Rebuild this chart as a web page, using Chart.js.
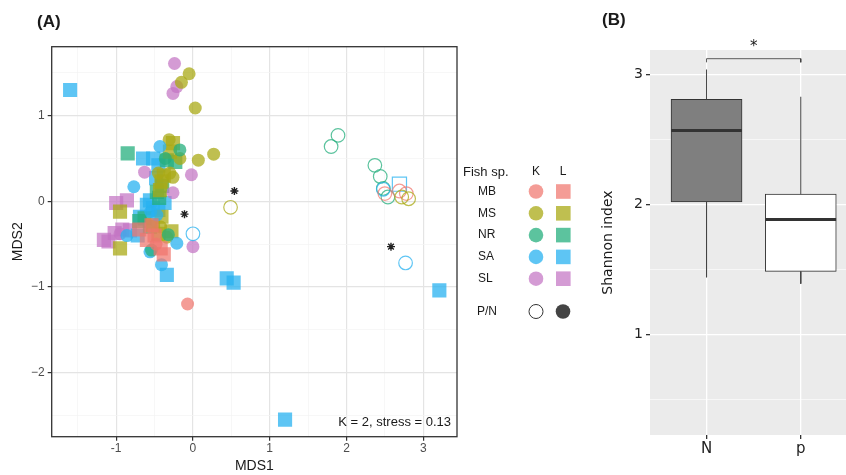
<!DOCTYPE html>
<html>
<head>
<meta charset="utf-8">
<script src="https://cdn.jsdelivr.net/npm/chart.js@4.4.1/dist/chart.umd.min.js"></script>
<style>
body{margin:0;background:#fff;width:846px;height:475px;overflow:hidden;position:relative}
#chartA{position:absolute;left:0;top:0}
#chartB{position:absolute;left:590px;top:0}
</style>
</head>
<body>
<canvas id="chartA" width="600" height="475"></canvas>
<canvas id="chartB" width="256" height="475"></canvas>
<script>
// ---- panel A: NMDS coordinates [MDS1, MDS2] ----
const species = ['MB', 'MS', 'NR', 'SA', 'SL'];
const speciesColors = ['rgba(240,118,110,0.72)', 'rgba(170,170,22,0.75)', 'rgba(38,175,125,0.75)', 'rgba(40,178,240,0.75)', 'rgba(196,116,196,0.72)'];

// K = circle, L = square ; open = P, filled = N
const mbCircle = [[-0.07,-1.20],[-0.48,-0.50]];
const mbSquare = [[-0.70,-0.33],[-0.60,-0.45],[-0.50,-0.40],[-0.42,-0.55],[-0.38,-0.62],[-0.54,-0.28]];
const mbOpen = [[2.50,0.09],[2.69,0.12],[2.78,0.09]];

const msCircle = [[-0.05,1.49],[-0.15,1.39],[0.03,1.09],[-0.31,0.72],[-0.17,0.50],[0.07,0.48],[0.27,0.55],[-0.45,0.33],[-0.30,0.33],[-0.26,0.28],[-0.42,-0.30],[-0.34,-0.42]];
const msSquare = [[-0.26,0.68],[-0.30,0.58],[-0.38,0.30],[-0.41,0.23],[-0.43,0.13],[-0.95,-0.12],[-0.41,-0.18],[-0.52,-0.28],[-0.45,-0.38],[-0.28,-0.35],[-0.95,-0.55]];
const msOpen = [[0.49,-0.07],[2.72,0.05],[2.81,0.03]];

const nrCircle = [[-0.17,0.60],[-0.32,-0.39],[-0.54,-0.57],[-0.36,0.50]];
const nrSquare = [[-0.85,0.56],[-0.34,0.48],[-0.23,0.46],[-0.40,0.18],[-0.47,0.11],[-0.44,0.04],[-0.63,-0.20],[-0.70,-0.23],[-0.56,-0.30]];
const nrOpen = [[1.89,0.77],[1.80,0.64],[2.37,0.42],[2.44,0.29],[2.48,0.15],[2.54,0.05]];

const saCircle = [[-0.43,0.64],[-0.77,0.17],[-0.47,-0.16],[-0.86,-0.40],[-0.21,-0.49],[-0.56,-0.59],[-0.41,-0.74],[-0.55,-0.12]];
const saSquare = [[-1.60,1.30],[-0.65,0.50],[-0.52,0.50],[-0.45,0.42],[-0.48,0.27],[-0.60,-0.04],[-0.52,-0.08],[-0.37,-0.02],[-0.69,-0.18],[-0.56,0.01],[-0.45,-0.10],[-0.72,-0.40],[-0.34,-0.86],[0.44,-0.90],[0.53,-0.95],[3.21,-1.04],[1.20,-2.55]];
const saOpen = [[0.0,-0.38],[2.48,0.14],[2.77,-0.72]];
const saOpenSquare = [[2.69,0.20]];

const slCircle = [[-0.24,1.61],[-0.21,1.34],[-0.26,1.26],[-0.63,0.34],[-0.02,0.31],[-0.26,0.10],[0.0,-0.53],[-0.95,-0.38]];
const slSquare = [[-1.00,-0.02],[-0.86,0.01],[-1.02,-0.37],[-1.10,-0.47],[-0.92,-0.33],[-0.82,-0.34],[-1.16,-0.45]];

const starMarks = [[-0.11,-0.15],[0.54,0.12],[2.58,-0.53]];

const xTicksA = [-1, 0, 1, 2, 3];
const yTicksA = [-2, -1, 0, 1];

// ---- panel B: Shannon index box plot ----
const groups = ['N', 'p'];
const boxMin = [1.44, 1.39];
const boxQ1 = [2.02, 1.485];
const boxMed = [2.57, 1.885];
const boxQ3 = [2.81, 2.08];
const boxMax = [3.04, 2.83];
const yTicksB = [1, 2, 3];

Chart.defaults.font.family = '"Liberation Sans", Arial, sans-serif';

function pts(arr) { return arr.map(p => ({x: p[0], y: p[1]})); }
function isMajor(v, list) { return list.some(t => Math.abs(t - v) < 1e-6); }
function withMinor(list, lo, hi) {
  let out = [];
  list.forEach(v => { out.push(v - 0.5, v, v + 0.5); });
  out = [...new Set(out.map(v => Math.round(v * 10) / 10))].filter(v => v > lo && v < hi);
  return out.sort((a, b) => a - b).map(v => ({value: v}));
}

function filledSet(arr, color, style) {
  return {data: pts(arr), pointStyle: style, pointRadius: style === 'rect' ? 10 : 6.5,
    backgroundColor: color, borderWidth: 0};
}
function openSet(arr, color, style) {
  return {data: pts(arr), pointStyle: style, pointRadius: style === 'rect' ? 10 : 6.8,
    backgroundColor: 'rgba(0,0,0,0)', borderColor: color, borderWidth: 1.2};
}

const c = speciesColors;
// first dataset is drawn on top
const datasetsA = [
  {data: pts(starMarks), pointStyle: 'star', pointRadius: 4, borderColor: '#222', borderWidth: 1.4},
  openSet(msOpen, c[1], 'circle'),
  openSet(mbOpen, c[0], 'circle'),
  openSet(saOpenSquare, c[3], 'rect'),
  openSet(saOpen, c[3], 'circle'),
  openSet(nrOpen, c[2], 'circle'),
  filledSet(mbSquare, c[0], 'rect'),
  filledSet(mbCircle, c[0], 'circle'),
  filledSet(nrCircle, c[2], 'circle'),
  filledSet(saCircle, c[3], 'circle'),
  filledSet(msCircle, c[1], 'circle'),
  filledSet(slCircle, c[4], 'circle'),
  filledSet(msSquare, c[1], 'rect'),
  filledSet(nrSquare, c[2], 'rect'),
  filledSet(saSquare, c[3], 'rect'),
  filledSet(slSquare, c[4], 'rect')
];

const panelA = {
  id: 'panelA',
  afterDraw(chart) {
    const {ctx, chartArea: a} = chart;
    ctx.save();
    ctx.strokeStyle = '#333';
    ctx.lineWidth = 1.3;
    ctx.strokeRect(a.left, a.top, a.right - a.left, a.bottom - a.top);

    ctx.fillStyle = '#1a1a1a';
    ctx.font = '13px "Liberation Sans", Arial';
    ctx.textAlign = 'right';
    ctx.textBaseline = 'middle';
    ctx.fillText('K = 2, stress = 0.13', a.right - 6, a.bottom - 14);

    ctx.font = 'bold 17px "Liberation Sans", Arial';
    ctx.textAlign = 'left';
    ctx.fillText('(A)', 37, 22);

    // legend
    ctx.font = '13px "Liberation Sans", Arial';
    ctx.fillText('Fish sp.', 463, 172);
    ctx.textAlign = 'center';
    ctx.font = '12px "Liberation Sans", Arial';
    ctx.fillText('K', 536, 172);
    ctx.fillText('L', 563, 172);
    species.forEach((s, i) => {
      const y = 191.5 + i * 21.8;
      ctx.textAlign = 'left';
      ctx.fillStyle = '#1a1a1a';
      ctx.fillText(s, 478, y);
      ctx.fillStyle = speciesColors[i];
      ctx.beginPath();
      ctx.arc(536, y, 7.3, 0, Math.PI * 2);
      ctx.fill();
      ctx.fillRect(556, y - 7.3, 14.6, 14.6);
    });
    const py = 311.5;
    ctx.fillStyle = '#1a1a1a';
    ctx.fillText('P/N', 477, py);
    ctx.strokeStyle = '#333';
    ctx.lineWidth = 1;
    ctx.beginPath();
    ctx.arc(536, py, 7, 0, Math.PI * 2);
    ctx.stroke();
    ctx.fillStyle = '#444';
    ctx.beginPath();
    ctx.arc(563, py, 7.3, 0, Math.PI * 2);
    ctx.fill();
    ctx.restore();
  }
};

function gridA(list) {
  return {
    color: ctx => isMajor(ctx.tick.value, list) ? '#e4e4e4' : '#f3f3f3',
    lineWidth: ctx => isMajor(ctx.tick.value, list) ? 1.2 : 0.7,
    tickColor: ctx => isMajor(ctx.tick.value, list) ? '#333' : 'rgba(0,0,0,0)',
    tickLength: 4
  };
}

new Chart(document.getElementById('chartA'), {
  type: 'scatter',
  data: {datasets: datasetsA},
  options: {
    responsive: false,
    animation: false,
    events: [],
    layout: {padding: {top: 46.7, right: 143, left: 0, bottom: 0}},
    plugins: {legend: {display: false}, tooltip: {enabled: false}},
    scales: {
      x: {
        type: 'linear', min: -1.84, max: 3.44,
        afterBuildTicks: s => { s.ticks = withMinor(xTicksA, -1.84, 3.44); },
        afterFit: s => { s.height = 38.3; },
        grid: gridA(xTicksA),
        border: {display: false},
        ticks: {
          autoSkip: false, maxRotation: 0, padding: 1, color: '#4d4d4d',
          font: {size: 12},
          callback: v => isMajor(v, xTicksA) ? String(v) : ''
        },
        title: {display: true, text: 'MDS1', color: '#1a1a1a', font: {size: 14}, padding: {top: 0, bottom: 0}}
      },
      y: {
        type: 'linear', min: -2.75, max: 1.806,
        afterBuildTicks: s => { s.ticks = withMinor(yTicksA, -2.75, 1.806); },
        afterFit: s => { s.width = 51.7; },
        grid: gridA(yTicksA),
        border: {display: false},
        ticks: {
          autoSkip: false, padding: 3, color: '#4d4d4d',
          font: {size: 12},
          callback: v => isMajor(v, yTicksA) ? (v < 0 ? '\u2212' + Math.abs(v) : String(v)) : ''
        },
        title: {display: true, text: 'MDS2', color: '#1a1a1a', font: {size: 14}, padding: {top: 10, bottom: 10}}
      }
    }
  },
  plugins: [panelA]
});

// ---- panel B ----
const groupPos = groups.map((g, i) => i + 1);
const boxHalf = 0.375;
const lineDs = (points, width, color) => ({
  type: 'line', data: points, borderColor: color, borderWidth: width,
  pointRadius: 0, fill: false, order: 1
});

const datasetsB = [];
groupPos.forEach((x, i) => {
  datasetsB.push(lineDs([{x: x - boxHalf, y: boxMed[i]}, {x: x + boxHalf, y: boxMed[i]}], 3, '#333'));
  datasetsB.push(lineDs([{x: x, y: boxQ3[i]}, {x: x, y: boxMax[i]}], 1, '#444'));
  datasetsB.push(lineDs([{x: x, y: boxQ1[i]}, {x: x, y: boxMin[i]}], 1, '#444'));
});
// significance bracket
datasetsB.push(lineDs([{x: 1, y: 3.095}, {x: 1, y: 3.123}, {x: 2, y: 3.123}, {x: 2, y: 3.095}], 0.8, '#333'));
datasetsB.push({
  type: 'bar',
  data: groupPos.map((x, i) => ({x: x, y: [boxQ1[i], boxQ3[i]]})),
  backgroundColor: ['#7f7f7f', '#ffffff'],
  borderColor: '#333',
  borderWidth: 1,
  borderSkipped: false,
  barThickness: 71,
  order: 2
});

const panelB = {
  id: 'panelB',
  beforeDraw(chart) {
    const {ctx, chartArea: a} = chart;
    ctx.save();
    ctx.fillStyle = '#ebebeb';
    ctx.fillRect(a.left, a.top, a.right - a.left, a.bottom - a.top);
    ctx.restore();
  },
  afterDraw(chart) {
    const {ctx, scales} = chart;
    ctx.save();
    ctx.fillStyle = '#1a1a1a';
    ctx.font = 'bold 17px "Liberation Sans", Arial';
    ctx.textBaseline = 'middle';
    ctx.fillText('(B)', 12, 20);
    ctx.font = '15px "DejaVu Sans"';
    ctx.textAlign = 'center';
    ctx.fillText('*', scales.x.getPixelForValue(1.5), 47);
    ctx.restore();
  }
};

function gridB(list) {
  return {
    color: '#ffffff',
    lineWidth: ctx => isMajor(ctx.tick.value, list) ? 1.3 : 0.6,
    tickColor: ctx => isMajor(ctx.tick.value, list) ? '#333' : 'rgba(0,0,0,0)',
    tickLength: 4,
    offset: false
  };
}

new Chart(document.getElementById('chartB'), {
  type: 'bar',
  data: {datasets: datasetsB},
  options: {
    responsive: false,
    animation: false,
    events: [],
    layout: {padding: {top: 50, right: 0, left: 0, bottom: 0}},
    plugins: {legend: {display: false}, tooltip: {enabled: false}},
    scales: {
      x: {
        type: 'linear', min: 0.4, max: 2.48, offset: false,
        afterBuildTicks: s => { s.ticks = groupPos.map(v => ({value: v})); },
        afterFit: s => { s.height = 40; },
        grid: gridB(groupPos),
        border: {display: false},
        ticks: {
          autoSkip: false, maxRotation: 0, padding: 1, color: '#222',
          font: {size: 15, family: '"DejaVu Sans"'},
          callback: v => groups[groupPos.indexOf(v)] || ''
        }
      },
      y: {
        type: 'linear', min: 0.225, max: 3.19,
        afterBuildTicks: s => { s.ticks = withMinor(yTicksB, 0.225, 3.19); },
        afterFit: s => { s.width = 60; },
        grid: gridB(yTicksB),
        border: {display: false},
        ticks: {
          autoSkip: false, padding: 3, color: '#222',
          font: {size: 14, family: '"DejaVu Sans"'},
          callback: v => isMajor(v, yTicksB) ? String(v) : ''
        },
        title: {display: true, text: 'Shannon index', color: '#1a1a1a', font: {size: 14, family: '"DejaVu Sans"'}, padding: {top: 10, bottom: 10}}
      }
    }
  },
  plugins: [panelB]
});
</script>
</body>
</html>
